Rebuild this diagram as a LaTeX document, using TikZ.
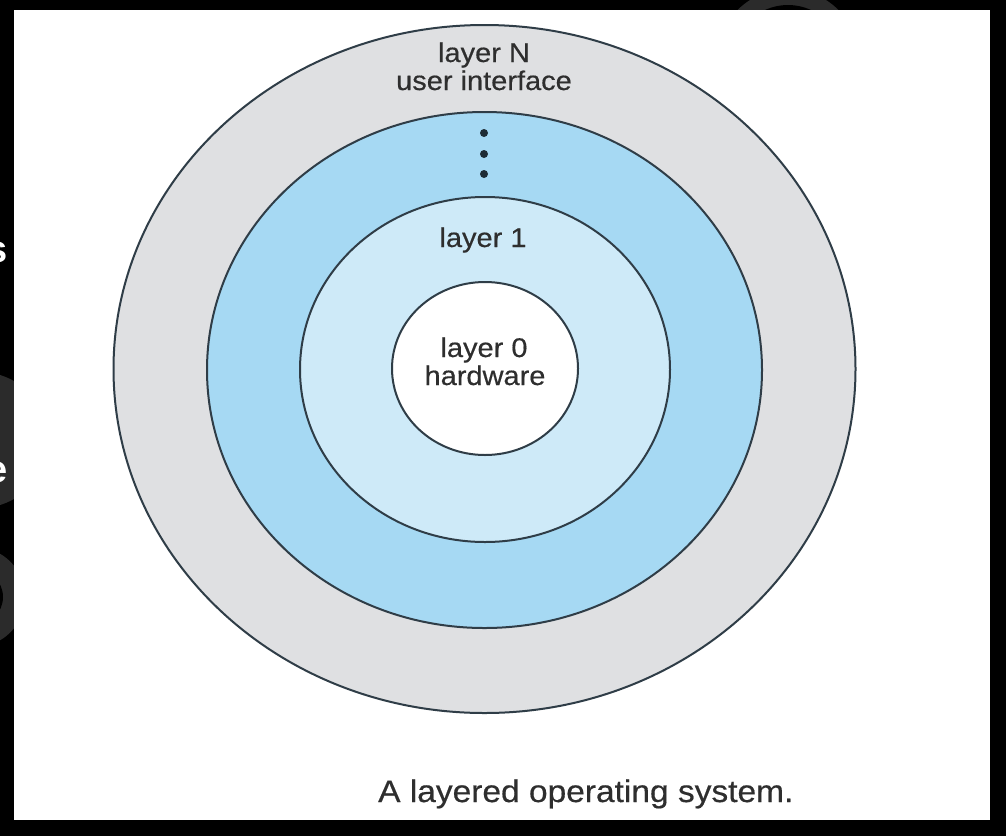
\documentclass[tikz,border=0pt]{standalone}
\usepackage{fontspec}
\setmainfont{Liberation Sans}
\newfontfamily\medfont{Liberation Sans}[FakeBold=0.45]
\usetikzlibrary{shapes.geometric}
\definecolor{ringline}{HTML}{2F3D47}
\definecolor{outerfill}{HTML}{DFE0E2}
\definecolor{midfill}{HTML}{A6D9F3}
\definecolor{innerfill}{HTML}{CEEAF8}
\definecolor{labelcol}{HTML}{2E2E2E}
\definecolor{dotcol}{HTML}{1E2C35}
\definecolor{residue}{HTML}{2B2B2B}
\newcommand{\sqz}[1]{\scalebox{1}[0.93]{#1}}
\tikzset{
  layerring/.style={ellipse, draw=ringline, line width=2pt, inner sep=0pt},
  lbl/.style={anchor=base, text=labelcol, inner sep=0pt, font=\medfont\fontsize{29}{28}\selectfont},
  capt/.style={anchor=base west, text=labelcol, inner sep=0pt, font=\medfont\fontsize{33.5}{36}\selectfont},
  vdot/.style={circle, fill=dotcol, inner sep=0pt, minimum size=8pt},
  ghost/.style={anchor=base east, text=white, inner sep=0pt, font=\fontsize{38}{40}\selectfont\bfseries}
}
\begin{document}
\begin{tikzpicture}[x=1pt,y=-1pt]
\useasboundingbox (0,0) rectangle (1006,836);
% black surround
\fill[black] (0,0) rectangle (1006,836);
% slide residues behind the panel
\fill[residue] (788,60) circle (71pt);
\fill[black] (788,60) circle (55pt);
\fill[residue] (-20,440) circle (68pt);
\fill[residue] (-25,597) circle (50pt);
\fill[black] (-25,597) circle (28pt);
\node[ghost] (ghostS) at (8,262) {s};
\node[ghost] (ghostE) at (8,482) {e};
% white panel
\fill[white] (14,10) rectangle (990,820);
% layers
\node[layerring, fill=outerfill, minimum width=742pt, minimum height=688pt] (layerNring) at (484.5,369) {};
\node[layerring, fill=midfill, minimum width=555pt, minimum height=516pt] (midring) at (484.5,370) {};
\node[layerring, fill=innerfill, minimum width=370pt, minimum height=345pt] (layer1ring) at (485,369.5) {};
\node[layerring, fill=white, minimum width=186pt, minimum height=173pt] (layer0ring) at (485,368.5) {};
% labels
\node[lbl] (layerN) at (484,62) {\sqz{layer N}};
\node[lbl] (ui) at (484,90) {\sqz{user interface}};
\node[vdot] (d1) at (484,133) {};
\node[vdot] (d2) at (484,154) {};
\node[vdot] (d3) at (484,174) {};
\node[lbl] (layer1) at (483,247) {\sqz{layer 1}};
\node[lbl] (layer0) at (484,357) {\sqz{layer 0}};
\node[lbl] (hw) at (485,385) {\sqz{hardware}};
\node[capt] (caption) at (378,802) {\sqz{A layered operating system.}};
\end{tikzpicture}
\end{document}
